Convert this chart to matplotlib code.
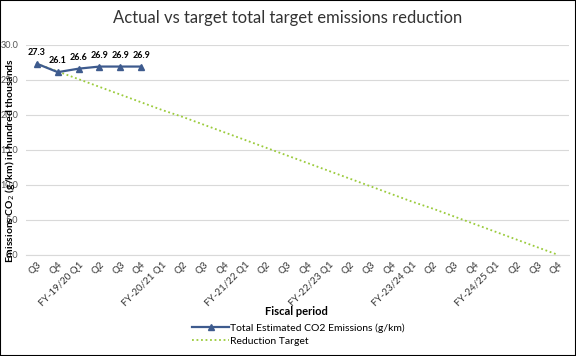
import matplotlib
matplotlib.use("Agg")
import matplotlib.pyplot as plt

# categories along the x axis
periods = ["Q3", "Q4",
           "FY-19/20 Q1", "Q2", "Q3", "Q4",
           "FY-20/21 Q1", "Q2", "Q3", "Q4",
           "FY-21/22 Q1", "Q2", "Q3", "Q4",
           "FY-22/23 Q1", "Q2", "Q3", "Q4",
           "FY-23/24 Q1", "Q2", "Q3", "Q4",
           "FY-24/25 Q1", "Q2", "Q3", "Q4"]

# actual emissions (first six periods)
actual = [27.3, 26.1, 26.6, 26.9, 26.9, 26.9]

# reduction target
target = [27.3, 26.2, 25.1, 24.0, 22.9, 21.8, 20.7, 19.7, 18.6, 17.5,
          16.4, 15.3, 14.2, 13.1, 12.0, 10.9, 9.8, 8.7, 7.6, 6.6,
          5.5, 4.4, 3.3, 2.2, 1.1, 0.0]

yticks = [0, 5, 10, 15, 20, 25, 30]

plt.rcParams['font.family'] = ['Lato', 'DejaVu Sans']

fig = plt.figure(figsize=(5.76, 3.56), dpi=100)
ax = fig.add_axes([0.046, 0.284, 0.941, 0.59])

x = list(range(len(periods)))
ax.plot(x[:len(actual)], actual, color="#3E5B8E", lw=1.6, marker="^", ms=4,
        label="Total Estimated CO2 Emissions (g/km)", zorder=3)
ax.plot(x, target, color="#9BCB3C", lw=1.3, ls=(0, (1, 1.5)),
        label="Reduction Target", zorder=2)

for i, v in enumerate(actual):
    ax.annotate("{:.1f}".format(v), (i, v), xytext=(0, 5), textcoords="offset points",
                ha="center", va="bottom", fontsize=6.5, fontweight="bold")

ax.set_xlim(-0.5, len(periods) - 0.5)
ax.set_ylim(0, 30)
ax.set_yticks(yticks)
ax.set_yticklabels(["{:.1f}".format(t) for t in yticks], fontsize=6.5, color="#555555")
ax.set_xticks(x)
ax.set_xticklabels(periods, rotation=45, ha="right", rotation_mode="anchor",
                   fontsize=7, color="#333333")
ax.tick_params(length=0, pad=4)
ax.tick_params(axis="y", pad=6)
ax.grid(axis="y", color="#D9D9D9", lw=0.8)
ax.set_axisbelow(True)
for s in ["top", "right", "left"]:
    ax.spines[s].set_visible(False)
ax.spines["bottom"].set_color("#D9D9D9")

fig.text(0.5, 0.95, "Actual vs target total target emissions reduction",
         ha="center", va="center", fontsize=12, color="#333333")
fig.text(0.018, 0.55, "Emissions CO$_2$ (g/km) in hundred thousands", rotation=90,
         ha="center", va="center", fontsize=7.5, fontweight="bold")
fig.text(0.514, 0.125, "Fiscal period", ha="center", va="center",
         fontsize=8, fontweight="bold")

fig.legend(loc="center left", bbox_to_anchor=(0.325, 0.06), frameon=False,
           fontsize=7.5, handlelength=3.5, handletextpad=0.1, labelspacing=0.4,
           borderpad=0)

fig.patches.append(plt.Rectangle((0, 0), 1, 1, transform=fig.transFigure,
                                 fill=False, ec="black", lw=1.5))

fig.savefig("out.png", dpi=100)
